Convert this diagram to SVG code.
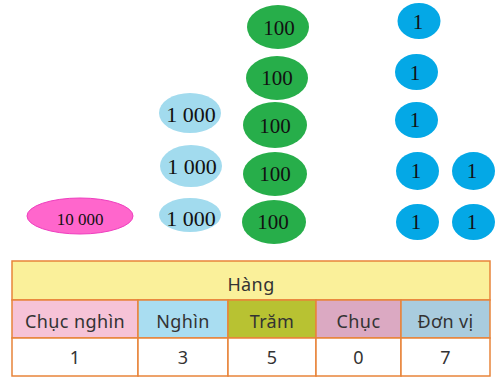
<svg xmlns="http://www.w3.org/2000/svg" width="498" height="379" viewBox="0 0 498 379">
<style>
.num{font-family:"Liberation Serif",serif;fill:#111;text-anchor:middle;dominant-baseline:central}
.n20{font-size:21px}
.n22{font-size:22px}
.n15{font-size:17px}
.tx{font-family:"Noto Sans","Liberation Sans",sans-serif;font-size:18px;letter-spacing:0.4px;fill:#333;text-anchor:middle;dominant-baseline:central}
.g{fill:#27AE4A}
.b{fill:#04A8E6}
.lb{fill:#A2DBEE}
.pk{fill:#FF66CC;stroke:#EE3FBF;stroke-width:1}
.cell{stroke:#E8843A;stroke-width:1.5}
</style>
<rect width="498" height="379" fill="#fff"/>
<g id="n10000"><ellipse class="pk" cx="80" cy="216" rx="53" ry="18"/><text class="num n15" x="80" y="219">10 000</text></g>
<g id="k1"><ellipse class="lb" cx="190" cy="113" rx="31" ry="20"/><text class="num n22" x="191" y="114">1 000</text></g>
<g id="k2"><ellipse class="lb" cx="191" cy="166" rx="31" ry="21"/><text class="num n22" x="192" y="166">1 000</text></g>
<g id="k3"><ellipse class="lb" cx="190" cy="215" rx="31" ry="17"/><text class="num n22" x="191" y="218">1 000</text></g>
<g id="h1"><ellipse class="g" cx="278" cy="27" rx="31" ry="22"/><text class="num n20" x="279" y="28">100</text></g>
<g id="h2"><ellipse class="g" cx="277" cy="78" rx="31" ry="22"/><text class="num n20" x="277" y="78">100</text></g>
<g id="h3"><ellipse class="g" cx="275" cy="125" rx="32" ry="23"/><text class="num n20" x="275" y="126">100</text></g>
<g id="h4"><ellipse class="g" cx="275" cy="174" rx="32" ry="22"/><text class="num n20" x="275" y="174">100</text></g>
<g id="h5"><ellipse class="g" cx="274" cy="222" rx="32" ry="22"/><text class="num n20" x="273" y="222">100</text></g>
<g id="u1"><ellipse class="b" cx="419" cy="21" rx="21.5" ry="18"/><text class="num n20" x="418" y="22">1</text></g>
<g id="u2"><ellipse class="b" cx="416.5" cy="72" rx="21.5" ry="18"/><text class="num n20" x="415" y="73">1</text></g>
<g id="u3"><ellipse class="b" cx="416.5" cy="120" rx="21.5" ry="18"/><text class="num n20" x="415" y="120">1</text></g>
<g id="u4"><ellipse class="b" cx="417.5" cy="171" rx="21.5" ry="19"/><text class="num n20" x="416" y="171">1</text></g>
<g id="u5"><ellipse class="b" cx="417.5" cy="222" rx="21.5" ry="18"/><text class="num n20" x="416" y="222">1</text></g>
<g id="u6"><ellipse class="b" cx="473.5" cy="171" rx="21.5" ry="19"/><text class="num n20" x="472" y="171">1</text></g>
<g id="u7"><ellipse class="b" cx="473.5" cy="222" rx="21.5" ry="18"/><text class="num n20" x="472" y="222">1</text></g>
<g id="table">
<rect class="cell" x="12" y="261" width="478" height="39" fill="#FAF09A"/>
<text class="tx" x="251" y="284">Hàng</text>
<rect class="cell" x="12" y="300" width="126" height="38" fill="#F6C3D7"/>
<rect class="cell" x="138" y="300" width="90" height="38" fill="#A9DDF1"/>
<rect class="cell" x="228" y="300" width="88" height="38" fill="#B8C232"/>
<rect class="cell" x="316" y="300" width="85" height="38" fill="#DBA9C2"/>
<rect class="cell" x="401" y="300" width="89" height="38" fill="#A9CCDE"/>
<text class="tx" x="75" y="321">Chục nghìn</text>
<text class="tx" x="183" y="321">Nghìn</text>
<text class="tx" x="272" y="321">Trăm</text>
<text class="tx" x="358.5" y="321">Chục</text>
<text class="tx" x="445.5" y="321">Đơn vị</text>
<rect class="cell" x="12" y="338" width="126" height="38" fill="#fff"/>
<rect class="cell" x="138" y="338" width="90" height="38" fill="#fff"/>
<rect class="cell" x="228" y="338" width="88" height="38" fill="#fff"/>
<rect class="cell" x="316" y="338" width="85" height="38" fill="#fff"/>
<rect class="cell" x="401" y="338" width="89" height="38" fill="#fff"/>
<text class="tx" x="75" y="357">1</text>
<text class="tx" x="183" y="357">3</text>
<text class="tx" x="272" y="357">5</text>
<text class="tx" x="358.5" y="357">0</text>
<text class="tx" x="445.5" y="357">7</text>
</g>
</svg>
